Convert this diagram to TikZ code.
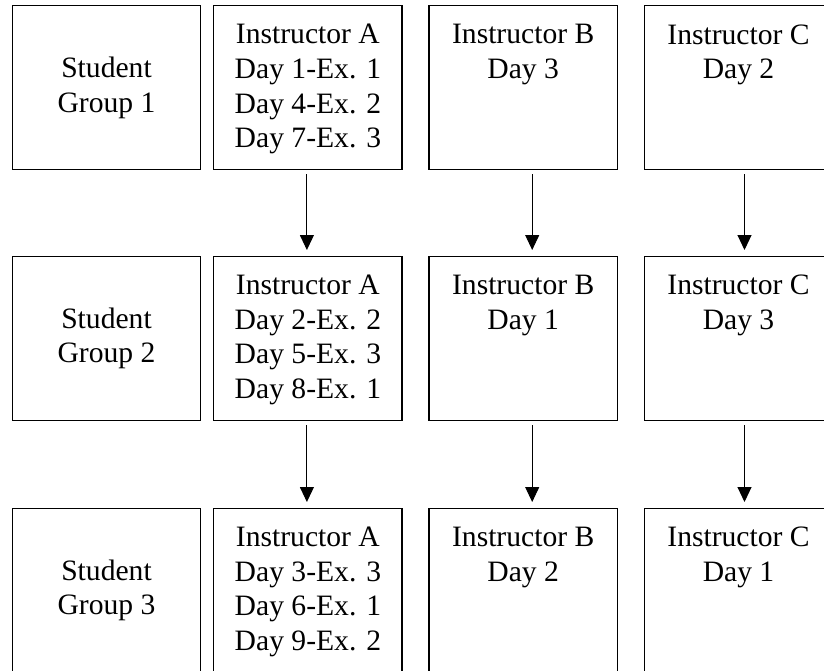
\documentclass[tikz,border=0pt]{standalone}
\usepackage{fontspec}
\setmainfont{Liberation Serif}
\usetikzlibrary{arrows.meta}
\begin{document}
\begin{tikzpicture}[x=1pt,y=-1pt,
  cell/.style={draw=black,line width=1.5pt,minimum width=188.4pt,minimum height=164pt,inner sep=0pt,outer sep=0pt},
  lbl/.style={align=center,inner sep=0pt,font=\fontsize{29.6}{34.6}\selectfont},
  flow/.style={line width=1pt,-{Triangle[width=14pt,length=15pt]},shorten <=4.5pt,shorten >=6.5pt}]
\useasboundingbox (0,0) rectangle (824,670);

% grid of boxes: student groups and instructors
\foreach \r/\y in {1/87.7,2/338.5,3/590.5}{
  \node[cell] (s\r) at (106.5,\y) {};
  \node[cell] (a\r) at (307.9,\y) {};
  \node[cell] (b\r) at (523.2,\y) {};
  \node[cell] (c\r) at (738.5,\y) {};
}

% row 1
\node[lbl] (ts1) at (s1) {Student\\Group 1};
\node[lbl,anchor=north] (ta1) at ([yshift=-18.5pt]a1.north) {Instructor A\\Day 1-Ex. 1\\Day 4-Ex. 2\\Day 7-Ex. 3};
\node[lbl,anchor=north] (tb1) at ([yshift=-18.5pt]b1.north) {Instructor B\\Day 3};
\node[lbl,anchor=north] (tc1) at ([yshift=-18.5pt]c1.north) {Instructor C\\Day 2};

% row 2
\node[lbl] (ts2) at (s2) {Student\\Group 2};
\node[lbl,anchor=north] (ta2) at ([yshift=-18.5pt]a2.north) {Instructor A\\Day 2-Ex. 2\\Day 5-Ex. 3\\Day 8-Ex. 1};
\node[lbl,anchor=north] (tb2) at ([yshift=-18.5pt]b2.north) {Instructor B\\Day 1};
\node[lbl,anchor=north] (tc2) at ([yshift=-18.5pt]c2.north) {Instructor C\\Day 3};

% row 3
\node[lbl] (ts3) at (s3) {Student\\Group 3};
\node[lbl,anchor=north] (ta3) at ([yshift=-18.5pt]a3.north) {Instructor A\\Day 3-Ex. 3\\Day 6-Ex. 1\\Day 9-Ex. 2};
\node[lbl,anchor=north] (tb3) at ([yshift=-18.5pt]b3.north) {Instructor B\\Day 2};
\node[lbl,anchor=north] (tc3) at ([yshift=-18.5pt]c3.north) {Instructor C\\Day 1};

% rotation arrows between rows
\foreach \u/\d in {1/2,2/3}{
  \draw[flow] ([xshift=-1pt]a\u.south) -- ([xshift=-1pt]a\d.north);
  \draw[flow] ([xshift=9pt]b\u.south) -- ([xshift=9pt]b\d.north);
  \draw[flow] ([xshift=6pt]c\u.south) -- ([xshift=6pt]c\d.north);
}
\end{tikzpicture}
\end{document}
